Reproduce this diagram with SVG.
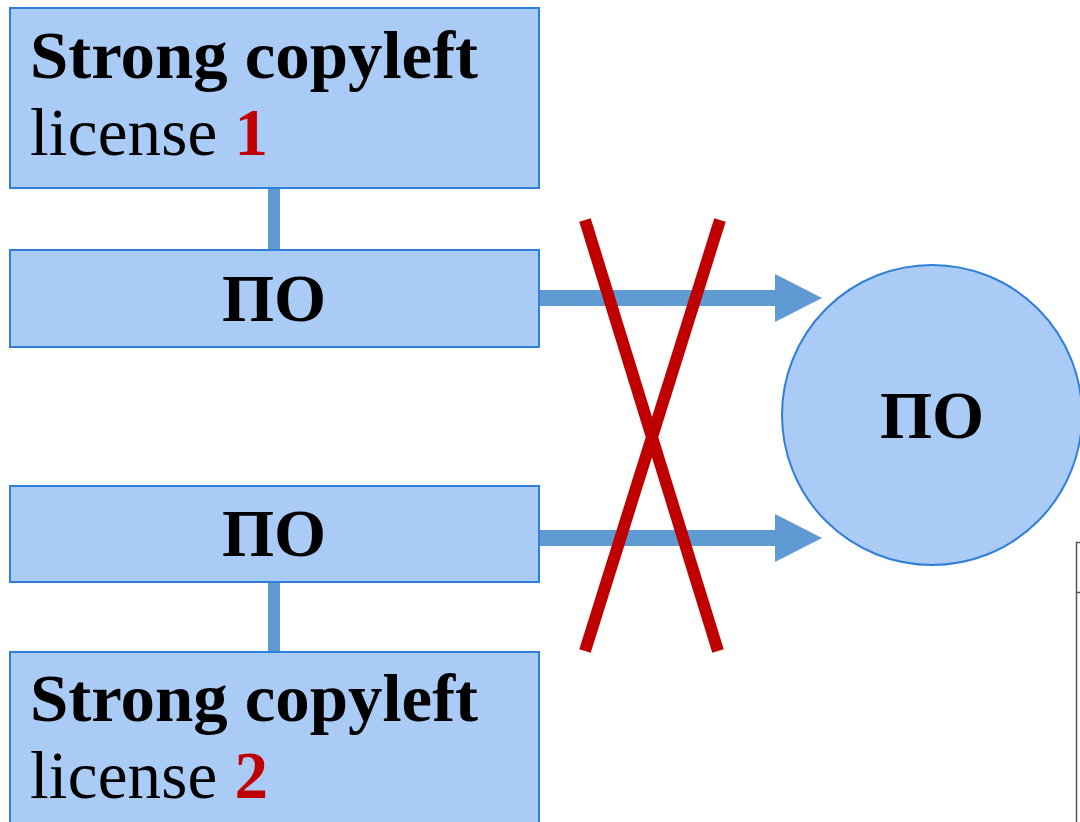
<svg xmlns="http://www.w3.org/2000/svg" width="1080" height="822" viewBox="0 0 1080 822">
<style>
.box{fill:#ABCBF7;stroke:#2F7FD8;stroke-width:2}
.t{font-family:"Liberation Serif","DejaVu Serif",serif;fill:#000}
.b{font-weight:bold}
.red{fill:#C00000;font-weight:bold}
.link{stroke:#5F9BD2;stroke-width:12}
.shaft{stroke:#5F9BD2;stroke-width:16}
.ah{fill:#5F9BD2}
.x{stroke:#C00000;stroke-width:12}
</style>
<rect width="1080" height="822" fill="#fff"/>
<g id="connectors">
<line class="link" x1="274" y1="188" x2="274" y2="250"/>
<line class="link" x1="274" y1="582" x2="274" y2="652"/>
<line class="shaft" x1="539" y1="298" x2="778" y2="298"/>
<polygon class="ah" points="775,274 822,298 775,322"/>
<line class="shaft" x1="539" y1="538" x2="778" y2="538"/>
<polygon class="ah" points="775,514 822,538 775,562"/>
</g>
<g id="license1">
<rect class="box" x="10" y="8" width="529" height="180"/>
<text class="t b" x="30" y="78" font-size="67" textLength="448" lengthAdjust="spacingAndGlyphs">Strong copyleft</text>
<text class="t" x="30" y="155" font-size="67" textLength="238" lengthAdjust="spacing">license <tspan class="red">1</tspan></text>
</g>
<g id="po1">
<rect class="box" x="10" y="250" width="529" height="97"/>
<text class="t b" x="274" y="321" font-size="67" text-anchor="middle">ПО</text>
</g>
<g id="po2">
<rect class="box" x="10" y="486" width="529" height="96"/>
<text class="t b" x="274" y="556" font-size="67" text-anchor="middle">ПО</text>
</g>
<g id="license2">
<rect class="box" x="10" y="652" width="529" height="180"/>
<text class="t b" x="30" y="721" font-size="67" textLength="448" lengthAdjust="spacingAndGlyphs">Strong copyleft</text>
<text class="t" x="30" y="798" font-size="67" textLength="238" lengthAdjust="spacing">license <tspan class="red">2</tspan></text>
</g>
<g id="po-target">
<circle class="box" cx="932" cy="415" r="150"/>
<text class="t b" x="932" y="438" font-size="67" text-anchor="middle">ПО</text>
</g>
<g id="cross">
<line class="x" x1="585" y1="220" x2="718" y2="651"/>
<line class="x" x1="720" y1="220" x2="585" y2="651"/>
</g>
<path d="M1080,542.5 H1076.5 V822 M1076.5,592.5 H1080" fill="none" stroke="#555" stroke-width="1.5"/>
</svg>
